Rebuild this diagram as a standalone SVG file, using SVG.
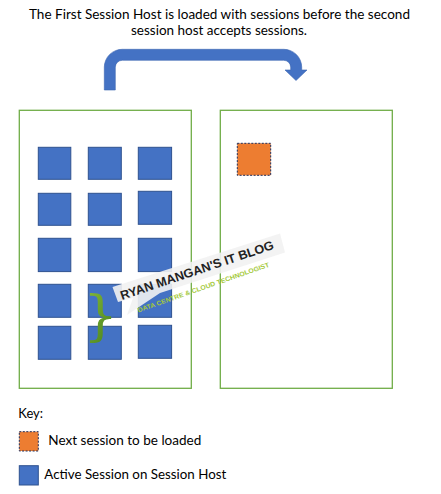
<svg xmlns="http://www.w3.org/2000/svg" width="441" height="494" viewBox="0 0 441 494">
<defs>
<style>
.t{font-family:Lato,"Noto Sans","Liberation Sans",sans-serif;font-size:13px;fill:#000}
.host{fill:#fff;stroke:#70AD47;stroke-width:1.3}
.s{fill:#4472C4;stroke:#2F528F;stroke-width:1}
.n{fill:#ED7D31;stroke:#1F2D5A;stroke-width:1;stroke-dasharray:2 1.5}
</style>
<linearGradient id="bg" x1="0" y1="0" x2="1" y2="1">
<stop offset="0" stop-color="#8cbf3a"/><stop offset="1" stop-color="#3f7a1c"/>
</linearGradient>
</defs>
<rect width="441" height="494" fill="#fff"/>
<g id="title">
<text class="t" x="219.5" y="19.2" text-anchor="middle" textLength="381" lengthAdjust="spacingAndGlyphs">The First Session Host is loaded with sessions before the second</text>
<text class="t" x="219" y="34.9" text-anchor="middle" textLength="176" lengthAdjust="spacingAndGlyphs">session host accepts sessions.</text>
</g>
<g id="connectors">
<path d="M104.3 90 V67 A18 18 0 0 1 122.3 49.3 H283.7 A18 18 0 0 1 301.7 67 V70 H307 L296 80.5 L285 70 H290.7 V67 A7 7 0 0 0 283.7 60.3 H122.3 A7 7 0 0 0 115.3 67 V90 Z" fill="#4472C4" stroke="#3A64B0" stroke-width="0.6"/>
</g>
<g id="host1">
<rect class="host" x="19.3" y="110.3" width="172" height="278"/>
<rect class="s" x="38.3" y="147.3" width="32.5" height="32"/>
<rect class="s" x="88.3" y="147.3" width="33" height="32"/>
<rect class="s" x="138.3" y="147.3" width="33.3" height="32"/>
<rect class="s" x="38.3" y="193.3" width="32.5" height="32"/>
<rect class="s" x="88.3" y="193.3" width="33" height="32"/>
<rect class="s" x="138.3" y="191.3" width="33.3" height="33"/>
<rect class="s" x="38.3" y="238.3" width="32.5" height="33.3"/>
<rect class="s" x="88.3" y="238.3" width="33" height="33.3"/>
<rect class="s" x="138.3" y="238.3" width="33.3" height="33.3"/>
<rect class="s" x="38.3" y="284.3" width="32.5" height="33"/>
<rect class="s" x="88.3" y="284.3" width="33" height="33"/>
<rect class="s" x="138.3" y="284.3" width="33.3" height="33"/>
<rect class="s" x="38.3" y="326.3" width="32.5" height="33"/>
<rect class="s" x="88.3" y="326.3" width="33" height="33"/>
<rect class="s" x="138.3" y="325.3" width="33.3" height="33"/>
</g>
<g id="host2">
<rect class="host" x="220.3" y="110.3" width="172" height="278"/>
<rect class="n" x="237.3" y="143.3" width="33.4" height="32"/>
</g>
<g id="watermark">
<path d="M112.5 287 L280 233.5 L285 252.5 L160 293 L127 315 L133 298 L118 302 Z" fill="#f2f2f2" fill-opacity="0.9"/>
<text x="0" y="0" transform="translate(122 300) rotate(-18.6)" font-family="'Liberation Sans',sans-serif" font-weight="bold" font-size="12.5" fill="#222" textLength="161" lengthAdjust="spacingAndGlyphs">RYAN MANGAN'S IT BLOG</text>
<text x="0" y="0" transform="translate(138.5 312.5) rotate(-19.3)" font-family="'Liberation Sans',sans-serif" font-weight="bold" font-size="6.5" fill="#a4c93a" textLength="139" lengthAdjust="spacingAndGlyphs">DATA CENTRE &amp; CLOUD TECHNOLOGIST</text>
<text x="83" y="334" font-family="'DejaVu Serif',serif" font-size="55" fill="url(#bg)">}</text>
</g>
<g id="key">
<text class="t" x="18.3" y="418" font-size="13.5">Key:</text>
<rect class="n" x="19.3" y="431.7" width="19" height="19.3"/>
<text class="t" x="48.3" y="444.5" textLength="153" lengthAdjust="spacingAndGlyphs">Next session to be loaded</text>
<rect class="s" x="19.3" y="465.7" width="19" height="19.3"/>
<text class="t" x="44.3" y="479" textLength="182" lengthAdjust="spacingAndGlyphs">Active Session on Session Host</text>
</g>
</svg>
